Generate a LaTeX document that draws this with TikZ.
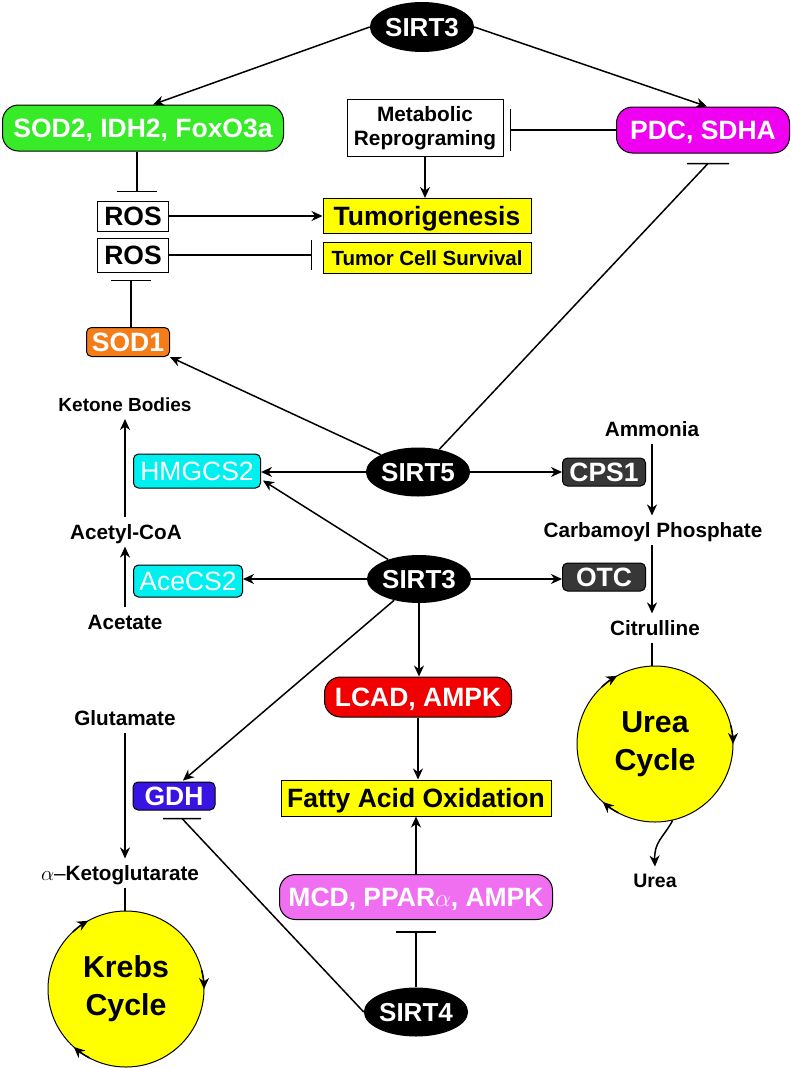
\documentclass[tikz,border=0pt]{standalone}
\usepackage{fontspec}
\setmainfont{Liberation Sans}
\usepackage{tikz}
\usetikzlibrary{arrows.meta,shapes.geometric,positioning,calc}

\definecolor{leafgreen}{RGB}{55,235,40}
\definecolor{pdcpink}{RGB}{240,0,240}
\definecolor{sodorange}{RGB}{245,125,25}
\definecolor{ketocyan}{RGB}{0,240,240}
\definecolor{ureagray}{RGB}{55,55,55}
\definecolor{lcadred}{RGB}{240,0,0}
\definecolor{gdhblue}{RGB}{55,20,225}
\definecolor{mcdpink}{RGB}{240,110,240}
\definecolor{hiyellow}{RGB}{255,255,0}

\newcommand\sirtfont{\fontsize{26}{30}\selectfont\bfseries}
\newcommand\boxfont{\fontsize{26.5}{30}\selectfont\bfseries}
\newcommand\chemfont{\fontsize{20.7}{24}\selectfont\bfseries}
\newcommand\cyclefont{\fontsize{30.3}{38}\selectfont\bfseries}

\tikzset{
    sirt/.style={ellipse, fill=black, text=white, font=\sirtfont,
        minimum width=100pt, minimum height=49pt, inner sep=0pt,
        text height=18.6pt, text depth=0pt},
    pill/.style={rectangle, rounded corners=16pt, draw=black, line width=1pt,
        text=white, font=\boxfont, minimum height=46pt, inner sep=0pt,
        text height=19pt, text depth=0pt},
    tag/.style={pill, rounded corners=5pt, minimum height=28pt},
    box/.style={rectangle, draw=black, line width=1pt, inner sep=0pt,
        font=\boxfont, text height=19pt, text depth=0pt},
    chem/.style={font=\chemfont, inner sep=7pt, text height=14.8pt, text depth=0pt},
    wheel/.style={circle, draw=black, line width=1pt, fill=hiyellow,
        minimum size=156pt, inner sep=0pt, align=center, font=\cyclefont},
    link/.style={line width=1.5pt},
    arrow/.style={->, >={Stealth[length=11pt,width=10pt,inset=3.5pt]}, line width=1.5pt},
    hstop/.style={line width=1.5pt, to path={-- (\tikztotarget) +(-#1,0) -- +(#1,0)}},
    hstop/.default=20,
    vstop/.style={line width=1.5pt, to path={-- (\tikztotarget) +(0,-#1) -- +(0,#1)}},
    vstop/.default=20
}

\begin{document}
\begin{tikzpicture}[x=1pt,y=-1pt]
    \useasboundingbox (0,0) rectangle (792,1068);

    % sirtuins
    \node[sirt, minimum width=103pt, minimum height=50pt] (sirtA) at (422,27) {SIRT3};
    \node[sirt] (sirt5) at (418,472) {SIRT5};
    \node[sirt, minimum width=98pt, minimum height=48pt] (sirtB) at (419,579) {SIRT3};
    \node[sirt] (sirt4) at (416,1012) {SIRT4};

    % ROS and tumour
    \node[pill, fill=leafgreen, minimum width=281pt] (sod2) at (143,128) {SOD2, IDH2, FoxO3a};
    \node[box, minimum width=156pt, minimum height=57pt, align=center,
        font={\fontsize{20.8}{24}\selectfont\bfseries}, text height=, text depth=]
        (metab) at (425,128) {Metabolic\\Reprograming};
    \node[pill, fill=pdcpink, minimum width=173pt] (pdc) at (703,130) {PDC, SDHA};
    \node[box, fill=hiyellow, minimum width=208pt, minimum height=35pt] (tumor) at (427,216) {Tumorigenesis};
    \node[box, fill=hiyellow, minimum width=208pt, minimum height=31pt,
        font={\fontsize{20.5}{24}\selectfont\bfseries}, text height=14.7pt]
        (surv) at (427,258) {Tumor Cell Survival};
    \node[box, minimum width=71pt, minimum height=30pt] (rosA) at (133,216) {ROS};
    \node[box, minimum width=71pt, minimum height=34pt] (rosB) at (133,255) {ROS};
    \node[tag, fill=sodorange, minimum width=83pt, minimum height=29pt] (sod1) at (128,342) {SOD1};

    % ketone bodies
    \node[chem, font={\fontsize{19}{22}\selectfont\bfseries}, text height=13.6pt] (keto) at (125,405) {Ketone Bodies};
    \node[tag, fill=ketocyan, minimum width=127pt, minimum height=34pt,
        font={\fontsize{26.5}{30}\selectfont}] (hmgcs2) at (197,471) {HMGCS2};
    \node[chem] (acoa) at (126,532) {Acetyl-CoA};
    \node[tag, fill=ketocyan, minimum width=109pt, minimum height=32pt,
        font={\fontsize{26.5}{30}\selectfont}] (acecs2) at (188,581) {AceCS2};
    \node[chem] (acet) at (125,622) {Acetate};

    % urea cycle
    \node[chem] (amm) at (652,429) {Ammonia};
    \node[tag, fill=ureagray, minimum width=83pt] (cps1) at (604,472) {CPS1};
    \node[chem] (carb) at (653,530) {Carbamoyl Phosphate};
    \node[tag, fill=ureagray, minimum width=83pt] (otc) at (604,577) {OTC};
    \node[chem] (citr) at (655,628) {Citrulline};
    \node[wheel] (ucyc) at (655,744) {Urea\\Cycle};
    \node[chem, font={\fontsize{19.5}{22}\selectfont\bfseries}, text height=14pt]
        (urea) [below=44pt of ucyc] {Urea};

    % fatty acids
    \node[pill, fill=lcadred, minimum width=187pt, minimum height=40pt] (lcad) at (418,697) {LCAD, AMPK};
    \node[box, fill=hiyellow, minimum width=270pt, minimum height=36pt] (fao) at (416,798) {Fatty Acid Oxidation};
    \node[pill, fill=mcdpink, minimum width=273pt, minimum height=45pt] (mcd) at (416,897)
        {MCD, PPAR{\mdseries$\alpha$}, AMPK};

    % krebs cycle
    \node[chem] (glu) at (125,718) {Glutamate};
    \node[tag, fill=gdhblue, minimum width=82pt] (gdh) at (174,796) {GDH};
    \node[chem] (akg) at (120,873) {{\mdseries$\alpha$\textendash}Ketoglutarate};
    \node[wheel] (kcyc) at (126,989) {Krebs\\Cycle};

    % where the inhibition bars sit
    \coordinate (rosAbar) at ($(rosA.north)+(4,-9)$);
    \coordinate (rosBbar) at ($(rosB.south)+(-2,8)$);
    \coordinate (survbar) at ($(rosB.east -| surv.west)+(-11,0)$);
    \coordinate (metabbar) at ($(pdc.west -| metab.east)+(7,0)$);
    \coordinate (pdcbar) at ($(pdc.south)+(5,10)$);
    \coordinate (gdhbar) at ($(gdh.south)+(8,8)$);
    \coordinate (mcdbar) at ($(mcd.south)+(0,12)$);

    \path (sirtA.west) edge[arrow] ($(sod2.north)+(10,0)$)
        (sirtA.east) edge[arrow] ($(pdc.north)+(4,0)$)
        (pdc.west) edge[vstop=21] (metabbar)
        (metab.south) edge[arrow] (metab.south |- tumor.north)
        (sod2.south -| rosAbar) edge[hstop] (rosAbar)
        (rosA) edge[arrow] (tumor)
        (rosB.east) edge[vstop=15] (survbar)
        (sod1.north -| rosBbar) edge[hstop] (rosBbar);

    \path (sirt5) edge[arrow] (sod1.south east)
        (sirt5) edge[hstop=21] (pdcbar)
        (sirt5.west) edge[arrow] (sirt5.west -| hmgcs2.east)
        (sirt5.east) edge[arrow] (sirt5.east -| cps1.west)
        (sirtB) edge[arrow] ($(hmgcs2.south east)+(2,-8)$)
        (sirtB.west) edge[arrow] (sirtB.west -| acecs2.east)
        (sirtB.east) edge[arrow] (sirtB.east -| otc.west)
        (sirtB.south) edge[arrow] (sirtB.south |- lcad.north)
        (sirtB) edge[arrow] ($(gdh.north)+(9,-1)$)
        (lcad.south) edge[arrow] (lcad.south |- fao.north)
        (mcd.north) edge[arrow] (mcd.north |- fao.south)
        (sirt4) edge[hstop] (mcdbar)
        (sirt4.west) edge[hstop=19] (gdhbar);

    \path (acet.north) edge[arrow] (acet.north |- acoa.south)
        (acet.north |- acoa.north) edge[arrow] (acet.north |- keto.south)
        (amm.south) edge[arrow] (amm.south |- carb.north)
        (amm.south |- carb.south) edge[arrow] (amm.south |- citr.north)
        (amm.south |- citr.south) edge[link] (amm.south |- ucyc.north)
        (glu.south) edge[arrow] (glu.south |- akg.north)
        (glu.south |- akg.south) edge[link] (glu.south |- kcyc.north);

    \draw[arrow] (ucyc.283) .. controls (663,838) and (654,842) .. (urea.north);

    \foreach \cyc in {ucyc,kcyc}
        \foreach \ang in {132,241,360}
            \draw[arrow] (\cyc) ++(\ang-14:78) arc[start angle=\ang-14, end angle=\ang, radius=78];
\end{tikzpicture}
\end{document}
